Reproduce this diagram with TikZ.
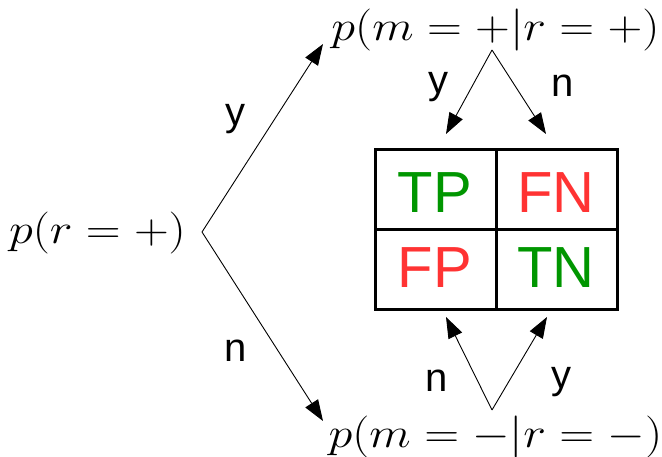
\documentclass[tikz,border=0pt]{standalone}
\usepackage{fix-cm}
\usepackage{fontspec}
\newfontfamily\lbl{Liberation Sans}
\usetikzlibrary{arrows.meta}
\definecolor{cgreen}{RGB}{0,150,0}
\definecolor{cred}{RGB}{255,51,51}
\newcommand{\wmath}[1]{\scalebox{1.15}[1]{$#1$}}
\tikzset{
  mathlbl/.style={inner sep=0pt, font=\fontsize{42}{48}\selectfont},
  yn/.style={inner sep=0pt, font=\lbl\fontsize{40}{46}\selectfont},
  cell/.style={inner sep=0pt, font=\lbl\fontsize{58}{64}\selectfont},
  arr/.style={line width=0.9pt, -{Triangle[length=21pt,width=15pt]}},
  grid/.style={line width=3pt}
}
\begin{document}
\begin{tikzpicture}[x=1pt,y=-1pt]
\useasboundingbox (0,0) rectangle (662,457);
% text nodes
\node[mathlbl] (pr) at (97.5,233) {\wmath{p(r=+)}};
\node[mathlbl] (pmp) at (495.5,30) {\wmath{p(m=+|r=+)}};
\node[mathlbl] (pmm) at (495.5,437) {\wmath{p(m=-|r=-)}};
% connector points
\coordinate (a0) at (202,232);
\coordinate (a1) at (323,44);
\coordinate (a2) at (323,421);
\coordinate (t0) at (492,50);
\coordinate (t1) at (446,134);
\coordinate (t2) at (546,134);
\coordinate (b0) at (492,410);
\coordinate (b1) at (446,317);
\coordinate (b2) at (547,317);
% arrows
\draw[arr] (a0) -- (a1);
\draw[arr] (a0) -- (a2);
\draw[arr] (t0) -- (t1);
\draw[arr] (t0) -- (t2);
\draw[arr] (b0) -- (b1);
\draw[arr] (b0) -- (b2);
% labels
\node[yn] (l1) at (235,119) {y};
\node[yn] (l2) at (236,351) {n};
\node[yn] (l3) at (438,87) {y};
\node[yn] (l4) at (563,86) {n};
\node[yn] (l5) at (437,381) {n};
\node[yn] (l6) at (561,382) {y};
% grid
\draw[grid] (375,150) rectangle (617,310);
\draw[grid] (496,150) -- (496,310);
\draw[grid] (375,230) -- (617,230);
\node[cell, text=cgreen] (tp) at (435,193) {TP};
\node[cell, text=cred] (fn) at (556,193) {FN};
\node[cell, text=cred] (fp) at (435,268) {FP};
\node[cell, text=cgreen] (tn) at (556,268) {TN};
\end{tikzpicture}
\end{document}
